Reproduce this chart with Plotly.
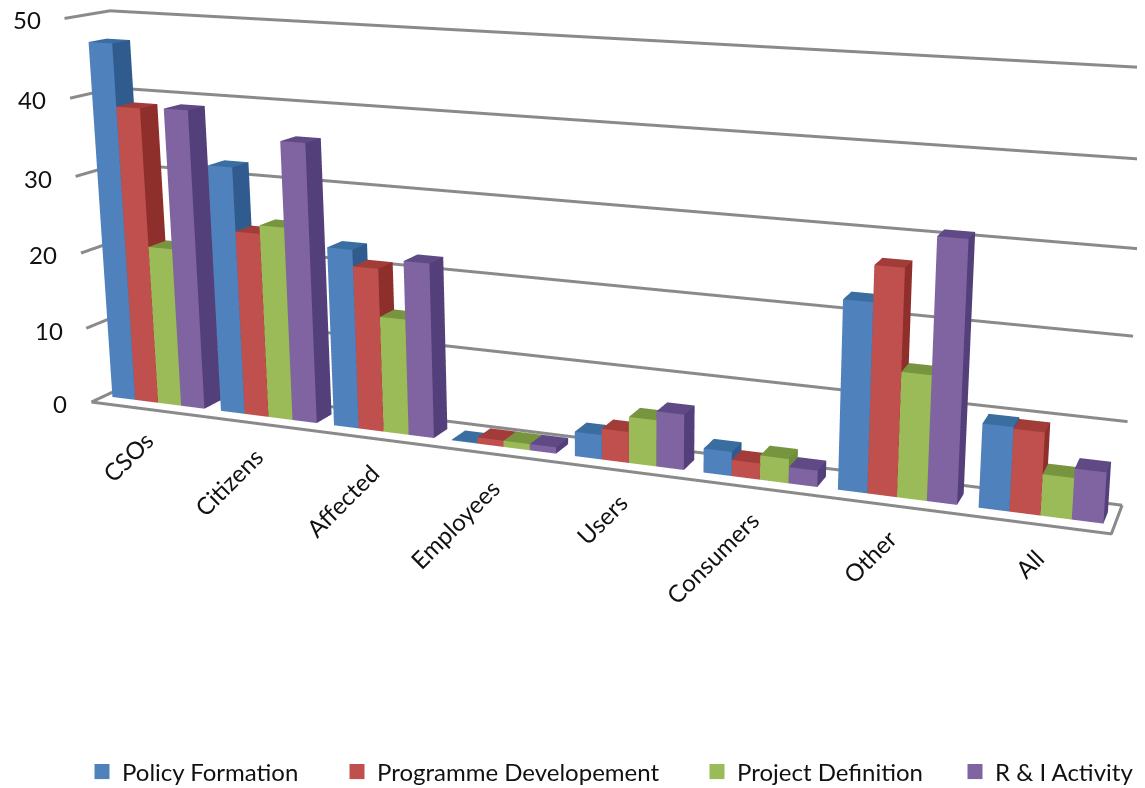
import numpy as np
import plotly.graph_objects as go

categories = ["CSOs", "Citizens", "Affected", "Employees", "Users", "Consumers", "Other", "All"]
policy = [46.8, 32.2, 23.1, 0.1, 3.1, 3.0, 22.8, 10.0]
programme = [38.8, 24.0, 21.0, 0.8, 3.9, 2.0, 27.1, 9.8]
project = [20.9, 25.1, 14.9, 0.8, 5.8, 3.0, 15.0, 4.9]
rni = [39.0, 36.0, 22.3, 0.8, 6.9, 2.0, 31.0, 6.0]
series_names = ["Policy Formation", "Programme Developement", "Project Definition", "R & I Activity"]
front = ["#4F81BD", "#C0504D", "#9BBB59", "#8064A2"]
side = ["#2F5B8E", "#8E2F2C", "#6F8E3A", "#53407A"]
top = ["#3A6DA0", "#A23C39", "#76953E", "#5F4A85"]
ticks = [0, 10, 20, 30, 40, 50]

OFF = 8
W, H = 1137, 780
# oblique view of the source chart: (category/8, depth, value/50, 1) -> homogeneous page pixels
PM = np.array([[919.64954, 51.62412, -32.80469, 100.0873],
               [49.62914, -7.53867, -421.0425, 440.25267],
               [-0.1775, 0.03719, -0.05206, 1.09506]])
CX, CY = OFF + W/2, OFF + H/2
FOC = (H/2)/np.tan(np.pi/8)
EYE = 3.0
def to_scene(cat, depth, val):
    X = np.array([cat/8, depth, val/50, 1.0])
    nu, nv, d = PM @ X
    return (EYE*(nu-CX*d)/FOC, EYE*d-EYE, EYE*(CY*d-nv)/FOC)

fig = go.Figure()
all_vals = [policy, programme, project, rni]
bw = .85/4
for si, vals in enumerate(all_vals):
    X=[];Y=[];Z=[];I=[];J=[];K=[];FC=[]
    def quad(pts, col):
        n = len(X)
        for pt in pts:
            a, b, c = to_scene(*pt)
            X.append(a); Y.append(b); Z.append(c)
        I.extend([n,n]); J.extend([n+1,n+2]); K.extend([n+2,n+3]); FC.extend([col,col])
    for ci, v in enumerate(vals):
        x0 = ci+.075+si*bw; x1 = x0+bw; y0, y1 = .3, .7
        quad([(x0,y0,0),(x1,y0,0),(x1,y0,v),(x0,y0,v)], front[si])
        quad([(x1,y0,0),(x1,y1,0),(x1,y1,v),(x1,y0,v)], side[si])
        quad([(x0,y0,v),(x1,y0,v),(x1,y1,v),(x0,y1,v)], top[si])
    fig.add_trace(go.Mesh3d(x=X,y=Y,z=Z,i=I,j=J,k=K,facecolor=FC,flatshading=True,hoverinfo="skip",showlegend=False,
        lighting=dict(ambient=1,diffuse=0,specular=0,roughness=1,fresnel=0)))
gp = []
for t in ticks:
    gp += [(0,0,t),(0,1,t),(8,1,t),None]
gp += [(0,0,0),(8,0,0),(8,1,0),None]
g = [to_scene(*q) if q else (None,None,None) for q in gp]
fig.add_trace(go.Scatter3d(x=[q[0] for q in g],y=[q[1] for q in g],z=[q[2] for q in g],mode="lines",
    line=dict(color="#8A8A8A",width=6),hoverinfo="skip",showlegend=False))
legs = {}
for si, (n, lx) in enumerate(zip(series_names, [74,329,689,947])):
    key = "legend" if si == 0 else "legend%d" % (si+1)
    fig.add_trace(go.Scatter(x=[None],y=[None],mode="markers",name=n,legend=key,showlegend=True,
        marker=dict(symbol="square",size=15,color=front[si])))
    legs[key] = dict(x=lx/W,y=1-(772-OFF)/H,xanchor="left",yanchor="middle",font=dict(size=24),bgcolor="rgba(0,0,0,0)",borderwidth=0)
R = 2.5
ax3 = dict(visible=False,showgrid=False,zeroline=False,showbackground=False,range=[-R,R])
ann = []
for t, (x,y) in zip(ticks, [(60,403),(49,330),(43,254),(38,178),(32,99),(27,20)]):
    ann.append(dict(text=str(t),x=(x-OFF)/W,y=1-(y-OFF)/H,xref="paper",yref="paper",xanchor="center",yanchor="middle",showarrow=False,font=dict(size=24,color="#111")))
for cat, (x,y) in zip(categories, [(128,457),(229,482),(342,500),(454,524),(601,519),(712,557),(869,556),(1029,563)]):
    ann.append(dict(text=cat,x=(x-OFF)/W,y=1-(y-OFF)/H,xref="paper",yref="paper",xanchor="center",yanchor="middle",showarrow=False,textangle=-45,font=dict(size=24,color="#111")))
fig.update_layout(width=W,height=H,margin=dict(l=0,r=0,t=0,b=0,autoexpand=False),paper_bgcolor="white",plot_bgcolor="white",
    font=dict(family="Lato",size=24,color="#111"),annotations=ann,
    xaxis=dict(visible=False),yaxis=dict(visible=False),
    scene=dict(domain=dict(x=[0,1],y=[0,1]),xaxis=ax3,yaxis=ax3,zaxis=ax3,
      aspectmode="manual",aspectratio=dict(x=2*R,y=2*R,z=2*R),dragmode="orbit",
      camera=dict(eye=dict(x=0,y=-EYE,z=0),center=dict(x=0,y=0,z=0),up=dict(x=0,y=0,z=1),projection=dict(type="perspective"))),
    **legs)
fig.write_html("out.html")
